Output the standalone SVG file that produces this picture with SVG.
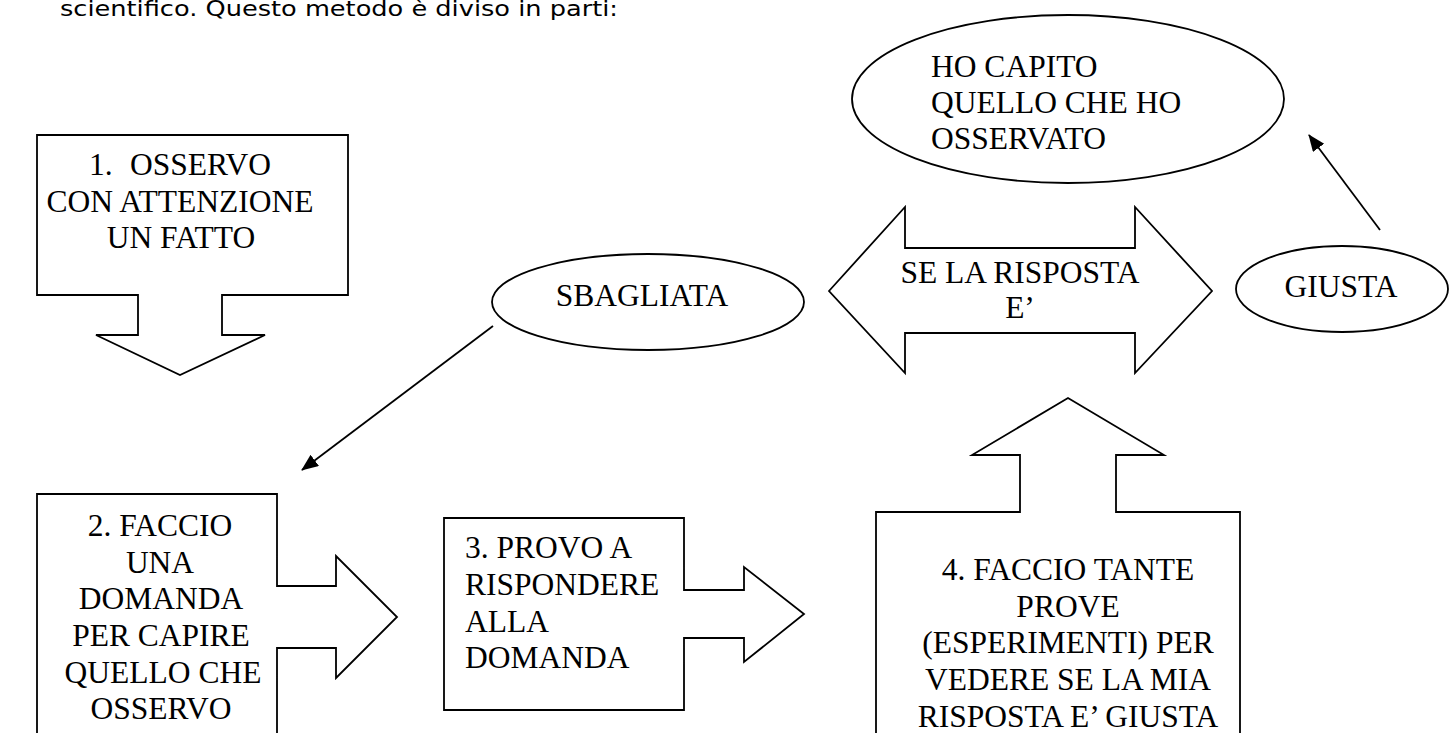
<svg xmlns="http://www.w3.org/2000/svg" width="1449" height="733" viewBox="0 0 1449 733">
<style>
.sh{fill:#fff;stroke:#000;stroke-width:1.8;stroke-linejoin:miter}
.t{font-family:"Liberation Serif","Times New Roman",serif;font-size:31.5px;fill:#000}
.c{text-anchor:middle}
.top{font-family:"DejaVu Sans",Verdana,sans-serif;font-size:22px;fill:#000}
.ln{stroke:#000;stroke-width:1.8;fill:none}
</style>
<defs>
<marker id="ah" markerUnits="userSpaceOnUse" markerWidth="20" markerHeight="16" refX="16" refY="7" orient="auto">
<path d="M0,0 L17,7 L0,14 Z" fill="#000"/>
</marker>
</defs>
<rect width="1449" height="733" fill="#fff"/>
<text class="top" x="60" y="16" textLength="558" lengthAdjust="spacingAndGlyphs">scientifico. Questo metodo è diviso in parti:</text>

<g id="connectors">
<line class="ln" x1="493" y1="326" x2="302" y2="470" marker-end="url(#ah)"/>
<line class="ln" x1="1380" y1="230" x2="1309" y2="135" marker-end="url(#ah)"/>
</g>

<g id="node1">
<polygon class="sh" points="37,135 348,135 348,295 222,295 222,335 265,335 180,375 96,335 138,335 138,295 37,295"/>
<text class="t" x="89" y="175">1.</text>
<text class="t" x="130" y="175">OSSERVO</text>
<text class="t c" x="180" y="212">CON ATTENZIONE</text>
<text class="t c" x="181" y="248">UN FATTO</text>
</g>

<g id="node2">
<polygon class="sh" points="37,494 277,494 277,586 336,586 336,556 397,617 336,678 336,648 277,648 277,745 37,745"/>
<text class="t c" x="160" y="536">2. FACCIO</text>
<text class="t c" x="160" y="573">UNA</text>
<text class="t c" x="161" y="609">DOMANDA</text>
<text class="t c" x="161" y="646">PER CAPIRE</text>
<text class="t c" x="163" y="683">QUELLO CHE</text>
<text class="t c" x="161" y="719">OSSERVO</text>
</g>

<g id="node3">
<polygon class="sh" points="444,518 684,518 684,590 744,590 744,567 804,614 744,662 744,638 684,638 684,710 444,710"/>
<text class="t" x="465" y="558">3. PROVO A</text>
<text class="t" x="465" y="595">RISPONDERE</text>
<text class="t" x="465" y="632">ALLA</text>
<text class="t" x="465" y="668">DOMANDA</text>
</g>

<g id="node4">
<polygon class="sh" points="876,512 1020,512 1020,455 972,455 1068,398 1164,455 1116,455 1116,512 1240,512 1240,745 876,745"/>
<text class="t c" x="1068" y="580">4. FACCIO TANTE</text>
<text class="t c" x="1068" y="617">PROVE</text>
<text class="t c" x="1068" y="653">(ESPERIMENTI) PER</text>
<text class="t c" x="1068" y="690">VEDERE SE LA MIA</text>
<text class="t c" x="1068" y="727">RISPOSTA E’ GIUSTA</text>
</g>

<g id="node-risposta">
<polygon class="sh" points="829,291 905,207 905,248 1135,248 1135,207 1212,291 1135,373 1135,333 905,333 905,373"/>
<text class="t c" x="1020" y="283">SE LA RISPOSTA</text>
<text class="t c" x="1020" y="318">E’</text>
</g>

<g id="node-sbagliata">
<ellipse class="sh" cx="648" cy="302" rx="156" ry="48"/>
<text class="t c" x="642" y="306">SBAGLIATA</text>
</g>

<g id="node-giusta">
<ellipse class="sh" cx="1342" cy="289" rx="106" ry="43"/>
<text class="t c" x="1341" y="297">GIUSTA</text>
</g>

<g id="node-capito">
<ellipse class="sh" cx="1068" cy="99" rx="216" ry="84"/>
<text class="t" x="931" y="77">HO CAPITO</text>
<text class="t" x="931" y="113">QUELLO CHE HO</text>
<text class="t" x="931" y="149">OSSERVATO</text>
</g>
</svg>
